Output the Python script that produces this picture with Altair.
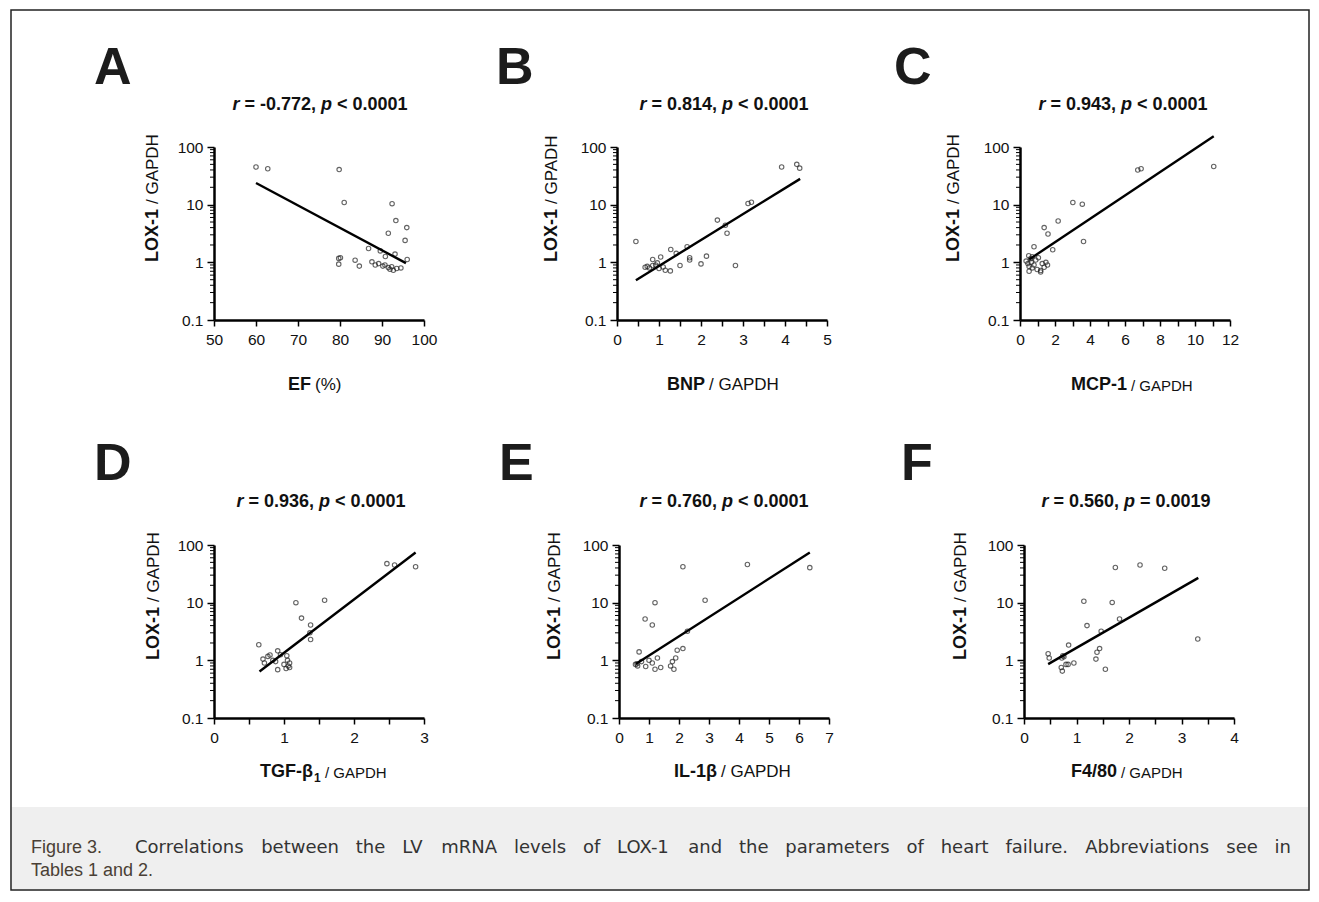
import altair as alt
import pandas as pd

FONT = "Liberation Sans"

# ---------------- data ----------------
# A: EF (%) vs LOX-1/GAPDH
a_x = [60, 62.8, 79.8, 81.0, 92.4, 93.3, 95.9, 91.5, 95.5, 79.7, 79.7, 83.6, 84.6, 86.8, 87.6,
       88.4, 89.2, 89.6, 90.2, 90.7, 91.5, 91.9, 92.3, 92.7, 93.1, 93.5, 94.5, 96.0, 90.8, 80.1]
a_y = [45, 42, 40.6, 10.9, 10.4, 5.3, 4.0, 3.2, 2.4, 1.17, 0.93, 1.09, 0.86, 1.74, 1.02,
       0.9, 0.95, 1.58, 0.86, 0.9, 0.81, 0.76, 0.84, 0.73, 1.39, 0.78, 0.8, 1.12, 1.26, 1.2]
a_line_x = [60.0, 95.7]
a_line_y = [23.8, 0.97]

# B: BNP/GAPDH
b_x = [0.45, 0.67, 0.77, 0.85, 0.85, 0.96, 1.04, 1.10, 1.15, 1.27, 1.28, 1.41, 1.50, 1.67, 1.73,
       1.73, 2.00, 2.13, 2.39, 2.58, 2.62, 2.82, 3.12, 3.20, 3.92, 4.28, 4.35, 0.72, 0.92, 1.0]
b_y = [2.3, 0.82, 0.80, 0.88, 1.12, 0.98, 1.24, 0.83, 0.73, 0.71, 1.67, 1.43, 0.88, 1.86, 1.10,
       1.20, 0.94, 1.28, 5.4, 4.4, 3.2, 0.88, 10.5, 11.0, 45, 50, 43, 0.85, 0.9, 0.78]
b_line_x = [0.45, 4.36]
b_line_y = [0.49, 28]

# C: MCP-1/GAPDH
c_x = [11.07, 6.73, 6.92, 3.02, 3.56, 2.18, 1.38, 1.60, 3.63, 1.87, 0.80, 0.50, 0.60, 0.70, 0.90,
       0.45, 0.52, 0.70, 0.98, 1.18, 1.27, 1.48, 1.57, 1.38, 0.52, 1.18, 0.80, 1.05, 0.35, 0.65]
c_y = [46, 40, 42, 10.9, 10.2, 5.2, 4.0, 3.1, 2.3, 1.65, 1.86, 1.3, 1.15, 1.25, 1.1,
       0.95, 0.85, 0.80, 0.75, 0.72, 0.95, 1.0, 0.9, 0.82, 0.7, 0.68, 0.9, 1.2, 1.05, 1.0]
c_line_x = [0.52, 11.07]
c_line_y = [1.12, 153]

# D: TGF-beta1/GAPDH
d_x = [0.64, 0.72, 0.77, 0.80, 0.84, 0.88, 0.91, 0.91, 1.03, 1.05, 1.06, 1.08, 1.04, 1.08, 1.17,
       1.25, 1.38, 1.38, 1.37, 1.58, 2.47, 2.58, 2.88, 0.70, 0.95, 1.0]
d_y = [1.86, 0.90, 1.17, 1.24, 1.0, 0.95, 1.46, 0.69, 0.72, 1.0, 0.8, 0.75, 1.2, 0.9, 10.0,
       5.4, 4.1, 2.3, 3.0, 11.0, 47.5, 45, 42, 1.05, 1.25, 0.85]
d_line_x = [0.65, 2.88]
d_line_y = [0.64, 74]

# E: IL-1beta/GAPDH
e_x = [2.13, 4.28, 6.36, 2.87, 1.20, 0.87, 1.11, 2.28, 0.67, 0.60, 0.62, 0.89, 1.00, 1.11, 1.20,
       1.39, 1.28, 1.72, 1.78, 1.83, 1.89, 1.94, 2.13, 0.75, 0.55]
e_y = [42, 46, 40.5, 11, 10, 5.2, 4.1, 3.2, 1.4, 0.87, 0.80, 0.78, 1.0, 0.9, 0.7,
       0.75, 1.1, 0.8, 0.95, 0.7, 1.1, 1.5, 1.6, 0.95, 0.85]
e_line_x = [0.56, 6.36]
e_line_y = [0.86, 74]

# F: F4/80/GAPDH
f_x = [0.46, 0.48, 0.72, 0.74, 0.76, 0.71, 0.73, 0.80, 0.84, 0.95, 0.85, 1.14, 1.20, 1.37, 1.39,
       1.44, 1.55, 1.47, 1.68, 1.74, 1.82, 2.21, 2.68, 3.31]
f_y = [1.3, 1.1, 1.1, 1.2, 1.15, 0.75, 0.65, 0.85, 0.85, 0.9, 1.84, 10.6, 4.0, 1.05, 1.38,
       1.6, 0.7, 3.2, 10.1, 40.7, 5.2, 45, 39.6, 2.34]
f_line_x = [0.46, 3.32]
f_line_y = [0.86, 26.9]

y_major = [0.1, 1, 10, 100]
y_minor = [0.2, 0.3, 0.4, 0.5, 0.6, 0.7, 0.8, 0.9, 2, 3, 4, 5, 6, 7, 8, 9,
           20, 30, 40, 50, 60, 70, 80, 90]

panel_letters = ["A", "B", "C", "D", "E", "F"]
stat_r = ["-0.772", "0.814", "0.943", "0.936", "0.760", "0.560"]
stat_p = ["< 0.0001", "< 0.0001", "< 0.0001", "< 0.0001", "< 0.0001", "= 0.0019"]

caption_lead = "Figure 3."
caption_line1 = ("Correlations between the LV mRNA levels of LOX-1 and the parameters of heart "
                 "failure. Abbreviations see in")
caption_line2 = "Tables 1 and 2."

W, H = 210, 173
INK = "#111111"
CAP_FONT = "DejaVu Sans"

# approximate advance widths (per 1000 em) used only for laying out text pieces
BOLD = {" ": 278, "=": 584, "<": 584, "-": 333, ".": 278, ",": 278, "r": 389, "p": 611}
BOLD.update({d: 556 for d in "0123456789"})
DJV = dict(zip(" abcdefghijklmnopqrstuvwxyz", [318, 613, 635, 550, 635, 615, 352, 635, 634, 278, 278,
                                                579, 278, 974, 634, 612, 635, 635, 411, 521, 392, 634,
                                                592, 818, 592, 592, 525]))
DJV.update({"A": 684, "C": 698, "L": 557, "M": 863, "N": 748, "O": 787, "R": 695, "V": 684,
            "X": 685, "T": 611, "-": 361, ".": 318, ",": 318})
DJV.update({d: 636 for d in "0123456789"})


def width(s, size, table):
    return sum(table.get(c, 600) for c in s) * size / 1000.0


def txt(s, x, y, size=16, weight="normal", align="left", baseline="alphabetic",
        angle=0, color=INK, font=FONT, style="normal"):
    return alt.Chart(pd.DataFrame({"t": [s]})).mark_text(
        font=font, fontSize=size, fontWeight=weight, align=align, baseline=baseline,
        angle=angle, color=color, fontStyle=style,
    ).encode(x=alt.value(x), y=alt.value(y), text="t:N")


def panel(xs, ys, lx, ly, xdom, xticks, label_expr, extras):
    xscale = alt.Scale(domain=xdom, nice=False, zero=False)
    yscale = alt.Scale(type="log", domain=[0.1, 100], nice=False)
    xaxis = alt.Axis(values=xticks, labelExpr=label_expr, title=None, grid=False,
                     tickSize=6, tickWidth=1.5, tickColor="black", domainWidth=2.5,
                     domainColor="black", labelFont=FONT, labelFontSize=15.5,
                     labelColor=INK, labelPadding=6, labelOverlap=False, labelFlush=False)
    yaxis = alt.Axis(values=y_major, labelExpr="datum.value < 1 ? '0.1' : format(datum.value, 'd')",
                     title=None, grid=False, tickSize=7, tickWidth=1.5, tickColor="black",
                     domainWidth=2.5, domainColor="black", labelFont=FONT, labelFontSize=15.5,
                     labelColor=INK, labelPadding=4, labelOverlap=False, labelFlush=False)
    pts = alt.Chart(pd.DataFrame({"x": xs, "y": ys})).mark_point(
        shape="circle", filled=False, size=20, strokeWidth=1.1, color="#222222"
    ).encode(x=alt.X("x:Q", scale=xscale, axis=xaxis),
             y=alt.Y("y:Q", scale=yscale, axis=yaxis))
    line = alt.Chart(pd.DataFrame({"x": lx, "y": ly})).mark_line(
        color="black", strokeWidth=2.4
    ).encode(x=alt.X("x:Q", scale=xscale, axis=xaxis),
             y=alt.Y("y:Q", scale=yscale, axis=yaxis))
    minor = alt.Chart(pd.DataFrame({"y": y_minor})).mark_rule(
        color="black", strokeWidth=1
    ).encode(y=alt.Y("y:Q", scale=yscale, axis=yaxis), x=alt.value(-4), x2=alt.value(0))
    return alt.layer(pts, line, minor, *extras).properties(width=W, height=H)


def ytitle(x, anchor, rest):
    return [txt("LOX-1", x, anchor, size=18, weight="bold", align="right",
                baseline="middle", angle=270),
            txt(rest, x, anchor - 5, size=17, align="left", baseline="middle", angle=270)]


def stat_title(i, cx, y):
    size = 18
    pieces = [("r", "italic"), (" = " + stat_r[i] + ", ", "normal"), ("p", "italic"),
              (" " + stat_p[i], "normal")]
    total = sum(width(p, size, BOLD) for p, _ in pieces)
    x = cx - total / 2.0
    out = []
    for p, st in pieces:
        lead = width(p, size, BOLD) - width(p.lstrip(), size, BOLD)
        out.append(txt(p.strip(), x + lead, y, size=size, weight="bold",
                       style=st, baseline="middle"))
        x += width(p, size, BOLD)
    return out


def common(i, letter_dx, stat_cx, ytx, yrest, row2=False):
    dy = -65 if row2 else -63
    sy = -43 if row2 else -42
    return ([txt(panel_letters[i], letter_dx, dy, size=52, weight="bold", color="#1c1c1c")] +
            stat_title(i, stat_cx, sy) + ytitle(ytx, 62, yrest))


def justified(line, x0, x1, y, size, color, font):
    words = line.split(" ")
    ww = [width(w, size, DJV) for w in words]
    gap = (x1 - x0 - sum(ww)) / (len(words) - 1)
    out = []
    x = x0
    for w, wd in zip(words, ww):
        out.append(txt(w, x, y, size=size, color=color, font=font))
        x += wd + gap
    return out


int_labels = "datum.value % 1 === 0 ? format(datum.value, 'd') : ''"

# frame around the figure and caption (placed in panels A and D)
frame = alt.Chart(pd.DataFrame({"k": [0]})).mark_rect(
    fillOpacity=0, stroke="#222222", strokeWidth=1.5
).encode(x=alt.value(-203), x2=alt.value(1095), y=alt.value(-137), y2=alt.value(743))

band = alt.Chart(pd.DataFrame({"k": [0]})).mark_rect(color="#efefef").encode(
    x=alt.value(-202), x2=alt.value(1094), y=alt.value(262), y2=alt.value(344))

pA = panel(a_x, a_y, a_line_x, a_line_y, [50, 100], [50, 60, 70, 80, 90, 100],
           "format(datum.value, 'd')",
           [frame] + common(0, -120, 106, -61, "/ GAPDH") +
           [txt("EF", 97, 238, size=18, weight="bold", align="right", baseline="middle"),
            txt("(%)", 101, 238, size=17, align="left", baseline="middle")])

pB = panel(b_x, b_y, b_line_x, b_line_y, [0, 5], [0, 0.5, 1, 1.5, 2, 2.5, 3, 3.5, 4, 4.5, 5],
           int_labels,
           common(1, -121, 107, -65, "/ GPADH") +
           [txt("BNP", 88, 238, size=18, weight="bold", align="right", baseline="middle"),
            txt("/ GAPDH", 92, 238, size=17, align="left", baseline="middle")])

pC = panel(c_x, c_y, c_line_x, c_line_y, [0, 12], list(range(0, 13)),
           "datum.value % 2 === 0 ? format(datum.value, 'd') : ''",
           common(2, -126, 103, -66, "/ GAPDH") +
           [txt("MCP-1", 107, 238, size=18, weight="bold", align="right", baseline="middle"),
            txt("/ GAPDH", 111, 239, size=15, align="left", baseline="middle")])

pD = panel(d_x, d_y, d_line_x, d_line_y, [0, 3], [0, 0.5, 1, 1.5, 2, 2.5, 3], int_labels,
           [band] + common(3, -120, 107, -60, "/ GAPDH", row2=True) +
           [txt("TGF-β", 99, 227, size=18, weight="bold", align="right", baseline="middle"),
            txt("1", 100, 233, size=12, weight="bold", align="left", baseline="middle"),
            txt("/ GAPDH", 111, 228, size=15, align="left", baseline="middle"),
            txt(caption_lead, -183, 308, size=18, color="#4a3f35",
                font="Liberation Sans Narrow, Liberation Sans"),
            txt(caption_line2, -183, 331, size=18, color="#4a3f35",
                font="Liberation Sans Narrow, Liberation Sans")] +
           justified(caption_line1, -79, 1077, 308, 18, "#333333", CAP_FONT))

pE = panel(e_x, e_y, e_line_x, e_line_y, [0, 7], list(range(0, 8)), "format(datum.value, 'd')",
           common(4, -120, 105, -64, "/ GAPDH", row2=True) +
           [txt("IL-1β", 98, 227, size=18, weight="bold", align="right", baseline="middle"),
            txt("/ GAPDH", 102, 227, size=17, align="left", baseline="middle")])

pF = panel(f_x, f_y, f_line_x, f_line_y, [0, 4], [0, 0.5, 1, 1.5, 2, 2.5, 3, 3.5, 4],
           int_labels,
           common(5, -123, 102, -63, "/ GAPDH", row2=True) +
           [txt("F4/80", 93, 227, size=18, weight="bold", align="right", baseline="middle"),
            txt("/ GAPDH", 97, 228, size=15, align="left", baseline="middle")])

row1 = alt.hconcat(pA, pB, pC, spacing=193, bounds="flush")
row2 = alt.hconcat(pD, pE, pF, spacing=195, bounds="flush")

chart = alt.vconcat(row1, row2, spacing=398, bounds="flush").properties(
    padding={"left": 2, "top": 1, "right": 0, "bottom": 0},
    background="white",
).configure_view(stroke=None)

chart.save("out.html", embed_options={"renderer": "svg", "actions": False})
